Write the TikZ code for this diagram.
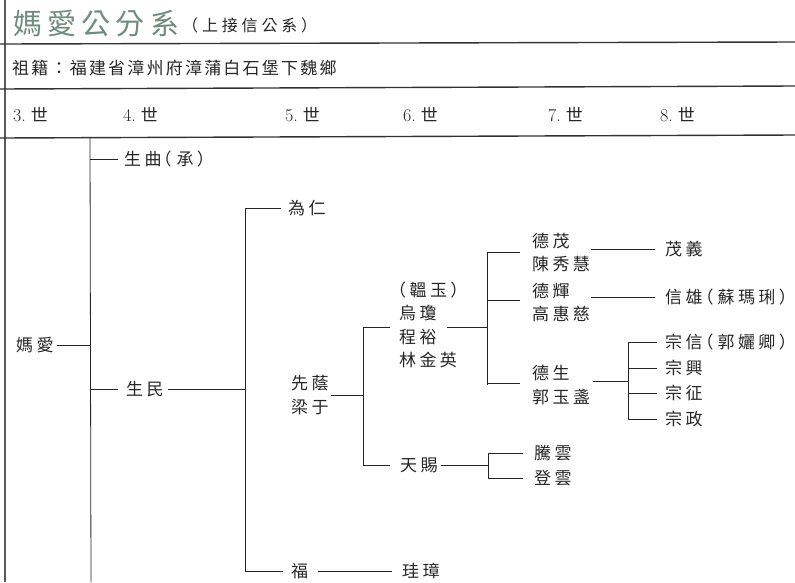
\documentclass[tikz,border=0pt]{standalone}
\usepackage{fontspec}
\newfontfamily\cjkT[LetterSpace=20]{Noto Sans CJK TC}
\newfontfamily\cjkR[LetterSpace=13]{Noto Sans CJK TC}
\newfontfamily\cjkS[LetterSpace=24]{Noto Sans CJK TC}
\newfontfamily\cjkH[LetterSpace=18]{Noto Sans CJK TC}
\newfontfamily\cjkP{Noto Sans CJK TC}
\definecolor{titlegreen}{HTML}{6F8C7C}
\definecolor{ink}{HTML}{262626}
\tikzset{
  tn/.style={anchor=west, inner sep=0pt, align=left, text=ink,
    font=\cjkT\fontsize{17}{23.5}\selectfont},
  gen/.style={anchor=west, inner sep=0pt, text=ink},
  tl/.style={draw=ink, line width=0.8pt},
  rule/.style={draw=black!80, line width=1.4pt},
}
\newcommand{\genlab}[1]{{\fontsize{18}{18}\selectfont #1.}\hspace{5pt}{\cjkP\fontsize{17}{17}\selectfont 世}}
\begin{document}
\begin{tikzpicture}[x=1pt,y=-1pt]
\useasboundingbox (0,0) rectangle (795,582);
% frame lines
\coordinate (lt) at (5,0);
\coordinate (lb) at (5,582);
\coordinate (r1a) at (0,44);  \coordinate (r1b) at (795,42);
\coordinate (r2a) at (0,89);  \coordinate (r2b) at (795,86);
\coordinate (r3a) at (0,138); \coordinate (r3b) at (795,135);
\draw[rule, line width=1.1pt, draw=black!65] (lt) -- (lb);
\draw[rule] (r1a) -- (r1b);
\draw[rule] (r2a) -- (r2b);
\draw[rule] (r3a) -- (r3b);
% title
\node[anchor=west, inner sep=0pt, text=titlegreen, font=\cjkH\fontsize{29}{29}\selectfont] (title) at (13,24) {媽愛公分系};
\node[anchor=west, inner sep=0pt, text=ink, font=\cjkS\fontsize{16}{16}\selectfont] (sub) at (182,25) {（上接信公系）};
% origin row
\node[anchor=west, inner sep=0pt, text=ink, font=\cjkR\fontsize{17}{17}\selectfont] (origin) at (12,68) {祖籍：福建省漳州府漳蒲白石堡下魏鄉};
% generation row
\node[gen] (g3) at (13,115) {\genlab{3}};
\node[gen] (g4) at (123,115) {\genlab{4}};
\node[gen] (g5) at (285,115) {\genlab{5}};
\node[gen] (g6) at (403,115) {\genlab{6}};
\node[gen] (g7) at (548,115) {\genlab{7}};
\node[gen] (g8) at (660,115) {\genlab{8}};
% tree nodes
\node[tn] (ma) at (16,345) {媽愛};
\node[tn] (sq) at (124,159) {生曲\kern-7pt（\kern5pt承）};
\node[tn] (sm) at (126,389) {生民};
\node[tn] (wr) at (288,208) {為仁};
\node[tn] (xy) at (291,395) {先蔭\\梁于};
\node[tn] (fu) at (291,571) {福};
\node[tn] (gz) at (402,571) {珪璋};
\node[tn] (grp) at (399,325) {\hspace*{-10pt}（韞玉）\\烏瓊\\程裕\\林金英};
\node[tn] (tc) at (400,465) {天賜};
\node[tn] (ty) at (534,453) {騰雲};
\node[tn] (dy) at (534,478) {登雲};
\node[tn] (dm) at (532,252.5) {德茂\\陳秀慧};
\node[tn] (dh) at (532,302.5) {德輝\\高惠慈};
\node[tn] (ds) at (532,385) {德生\\郭玉盞};
\node[tn] (my) at (665,249) {茂義};
\node[tn] (xx) at (665,297) {信雄\kern-6pt（\kern4pt蘇瑪琍）\kern-14pt};
\node[tn] (zx) at (665,342) {宗信\kern-6pt（\kern4pt郭孋卿）\kern-14pt};
\node[tn] (zh) at (665,368) {宗興};
\node[tn] (zz) at (665,393) {宗征};
\node[tn] (zp) at (665,419) {宗政};
% junction columns
\coordinate (v1t) at (90,138);
\coordinate (v1b) at (91,582);
\coordinate (v2) at (245,0);
\coordinate (v3) at (363,0);
\coordinate (v4) at (487,0);
\coordinate (v5) at (628,0);
\coordinate (v6) at (488,0);
\coordinate (gj) at ([yshift=-2pt]grp.west);
\coordinate (dsj) at ([yshift=4pt]ds.east);
% connectors: generation 3 -> 4
\draw[tl] (v1t) -- (v1b);
\draw[tl] ([xshift=3pt]ma.east) -- (ma.east -| v1t);
\draw[tl] (sq.west -| v1t) -- ([xshift=-6pt]sq.west);
\draw[tl] (sm.west -| v1t) -- ([xshift=-8pt]sm.west);
% 4 -> 5
\draw[tl] ([xshift=4pt]sm.east) -- (sm.east -| v2);
\draw[tl] (wr.west -| v2) -- (fu.west -| v2);
\draw[tl] (wr.west -| v2) -- ([xshift=-7pt]wr.west);
\draw[tl] (fu.west -| v2) -- ([xshift=-8pt]fu.west);
% 5 -> 6
\draw[tl] ([xshift=10pt]fu.east) -- ([xshift=-10pt]gz.west);
\draw[tl] ([xshift=2pt]xy.east) -- (xy.east -| v3);
\draw[tl] (gj -| v3) -- (tc.west -| v3);
\draw[tl] (gj -| v3) -- ([xshift=-9pt]gj);
\draw[tl] (tc.west -| v3) -- ([xshift=-10pt]tc.west);
% 6 -> 7
\draw[tl] ([xshift=48pt]gj) -- (gj -| v4);
\draw[tl] (dm.west -| v4) -- (ds.west -| v4);
\draw[tl] (dm.west -| v4) -- ([xshift=-12pt]dm.west);
\draw[tl] ([yshift=2pt]dh.west -| v4) -- ([xshift=-12pt,yshift=2pt]dh.west);
\draw[tl] ([yshift=2pt]ds.west -| v4) -- ([xshift=-12pt,yshift=2pt]ds.west);
\draw[tl] ([xshift=3pt]tc.east) -- (tc.east -| v6);
\draw[tl] (ty.west -| v6) -- (dy.west -| v6);
\draw[tl] (ty.west -| v6) -- ([xshift=-11pt]ty.west);
\draw[tl] (dy.west -| v6) -- ([xshift=-11pt]dy.west);
% 7 -> 8
\draw[tl] ([xshift=1pt]dm.east |- my.west) -- ([xshift=-10pt]my.west);
\draw[tl] ([xshift=1pt]dh.east |- xx.west) -- ([xshift=-10pt]xx.west);
\draw[tl] ([xshift=3pt]dsj) -- (dsj -| v5);
\draw[tl] (zx.west -| v5) -- (zp.west -| v5);
\draw[tl] (zx.west -| v5) -- ([xshift=-8pt]zx.west);
\draw[tl] (zh.west -| v5) -- ([xshift=-8pt]zh.west);
\draw[tl] (zz.west -| v5) -- ([xshift=-8pt]zz.west);
\draw[tl] (zp.west -| v5) -- ([xshift=-8pt]zp.west);
\end{tikzpicture}
\end{document}
